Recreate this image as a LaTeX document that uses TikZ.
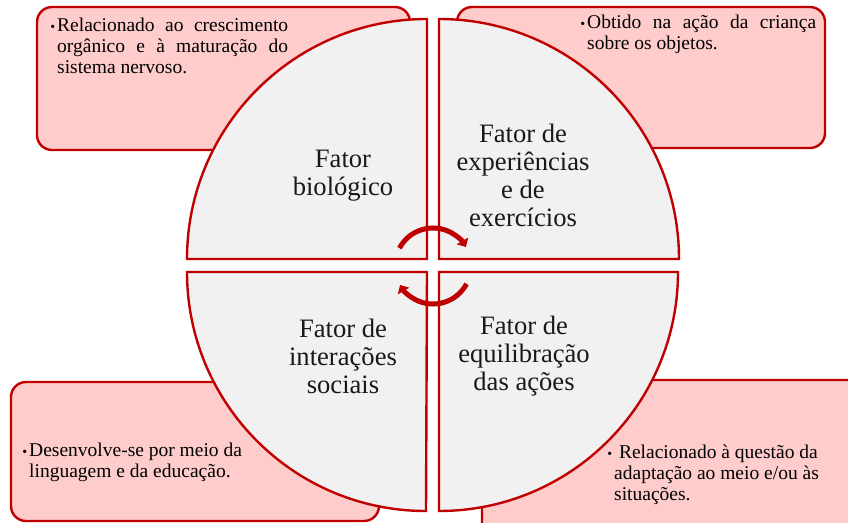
\documentclass[tikz,border=0pt]{standalone}
\usepackage{fontspec}
\setmainfont{Liberation Serif}
\usetikzlibrary{arrows.meta}
\definecolor{bordred}{HTML}{C00000}
\definecolor{boxpink}{HTML}{FFCCCC}
\definecolor{quadgray}{HTML}{F1F1F1}
\newcommand{\mybul}{\llap{\fontsize{14}{14}\selectfont\textbullet\hspace{2pt}}}
\begin{document}
\begin{tikzpicture}[x=1pt,y=1pt,
  infobox/.style={draw=bordred,fill=boxpink,line width=2.4pt,rounded corners=15pt},
  quad/.style={draw=bordred,fill=quadgray,line width=2.4pt,line join=miter},
  boxtext/.style={inner sep=0pt,anchor=north west,font=\fontsize{19.5}{21}\selectfont,text=black},
  quadtext/.style={inner sep=0pt,align=center,font=\fontsize{26.6}{28}\selectfont,text=black!90},
  cyclearrow/.style={draw=bordred,line width=5pt,-{Triangle[length=7pt,width=13pt]}}]
\useasboundingbox (0,0) rectangle (848,-522);
\fill[white] (0,0) rectangle (848,-522);
% background info boxes
\draw[infobox] (37,-7) rectangle (410,-150);
\draw[infobox] (457,-7) rectangle (825,-148);
\draw[infobox] (11,-382) rectangle (379,-521);
\draw[infobox] (482,-380) rectangle (870,-540);
% quadrants
\draw[quad] (427,-259) -- (187,-259) arc[start angle=180,end angle=90,radius=240] -- cycle;
\draw[quad] (439,-259) -- (439,-19) arc[start angle=90,end angle=0,radius=240] -- cycle;
\draw[quad] (427,-272) -- (187,-272) arc[start angle=180,end angle=270,radius=239] -- cycle;
\draw[quad] (439,-272) -- (678,-272) arc[start angle=0,end angle=-90,radius=239] -- cycle;
% cycle arrows
\coordinate (cc) at (433,-266);
\draw[cyclearrow] ([shift={(152:38)}]cc) arc[start angle=152,end angle=30,radius=38];
\draw[cyclearrow] ([shift={(-28:38)}]cc) arc[start angle=-28,end angle=-150,radius=38];
% quadrant labels
\node[quadtext] (q1) at (343,-176) {Fator\\biológico};
\node[quadtext] (q2) at (523,-175) {Fator de\\experiências\\e de\\exercícios};
\node[quadtext] (q3) at (343,-356) {Fator de\\interações\\sociais};
\node[quadtext] (q4) at (524,-356) {Fator de\\equilibração\\das ações};
% box texts
\node[boxtext,text width=231pt,align=justify] (t1) at (57,-18)
  {\mybul Relacionado ao crescimento\linebreak orgânico e à maturação do\linebreak sistema nervoso.};
\node[boxtext,text width=229pt,align=justify] (t2) at (587,-15)
  {\mybul Obtido na ação da criança\linebreak sobre os objetos.};
\node[boxtext,align=left] (t3) at (29,-443)
  {\mybul Desenvolve-se por meio da\\linguagem e da educação.};
\node[boxtext,align=left] (t4) at (614,-445)
  {\mybul\ Relacionado à questão da\\adaptação ao meio e/ou às\\situações.};
\end{tikzpicture}
\end{document}
